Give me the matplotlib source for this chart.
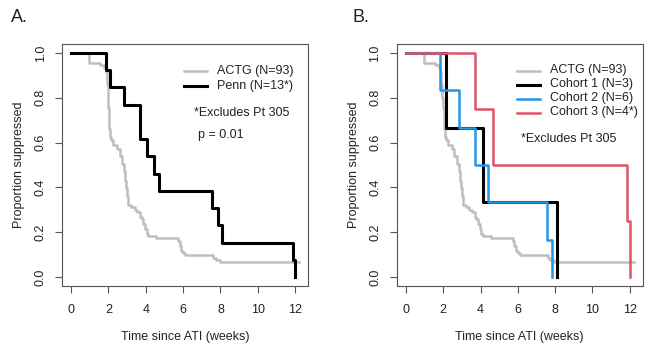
import matplotlib
matplotlib.use("Agg")
import matplotlib.pyplot as plt
from matplotlib.lines import Line2D

plt.rcParams["font.family"] = ["Liberation Sans", "DejaVu Sans"]

# ── data (Kaplan-Meier step points) ─────────────────────────────────────────
actg_t = [0, 0.96, 1.55, 1.75, 1.85, 1.90, 1.95, 2.00, 2.04, 2.10, 2.15, 2.25,
          2.45, 2.60, 2.75, 2.85, 2.90, 2.95, 3.00, 3.05, 3.20, 3.40, 3.55,
          3.68, 3.78, 3.86, 3.95, 4.04, 4.12, 4.57, 5.75, 5.82, 5.90, 6.00,
          6.10, 7.60, 7.75, 7.95, 12.2]
actg_s = [1.000, 0.957, 0.946, 0.935, 0.914, 0.860, 0.800, 0.753, 0.660, 0.624,
          0.613, 0.591, 0.570, 0.538, 0.505, 0.473, 0.430, 0.398, 0.360, 0.323,
          0.312, 0.301, 0.290, 0.269, 0.258, 0.237, 0.215, 0.194, 0.183, 0.172,
          0.161, 0.140, 0.118, 0.108, 0.097, 0.086, 0.075, 0.065, 0.065]

penn_t = [0, 1.86, 2.07, 2.84, 3.68, 4.09, 4.43, 4.71, 7.55, 7.88, 8.10, 11.86, 12.0]
penn_s = [1.0, 0.923, 0.846, 0.769, 0.615, 0.538, 0.462, 0.385, 0.308, 0.231,
          0.154, 0.077, 0.0]

coh1_t = [0, 2.14, 4.11, 8.11]
coh1_s = [1.0, 0.667, 0.333, 0.0]
coh2_t = [0, 1.82, 2.84, 3.70, 4.39, 7.57, 7.84]
coh2_s = [1.0, 0.833, 0.667, 0.5, 0.333, 0.167, 0.0]
coh3_t = [0, 3.68, 4.68, 11.86, 12.0]
coh3_s = [1.0, 0.75, 0.5, 0.25, 0.0]

xticks = [0, 2, 4, 6, 8, 10, 12]
yticks = [0.0, 0.2, 0.4, 0.6, 0.8, 1.0]

GRAY = "#BEBEBE"
BLUE = "#2297E6"
RED = "#DF536B"
TXT = "#222222"
FRAME = "#555555"
FS = 9

W, H = 650, 352
fig = plt.figure(figsize=(W / 100, H / 100), dpi=100)


def px(x, y):
    return x / W, 1 - y / H


def setup(ax):
    ax.set_xlim(-0.49, 12.69)
    ax.set_ylim(-0.04, 1.04)
    ax.set_xticks(xticks)
    ax.set_yticks(yticks)
    ax.set_xticklabels([str(t) for t in xticks])
    ax.set_yticklabels([f"{t:.1f}" for t in yticks], rotation=90, va="center")
    ax.tick_params(direction="out", length=5, width=0.8, colors=FRAME,
                   labelcolor=TXT, labelsize=FS)
    ax.tick_params(axis="x", pad=8)
    ax.tick_params(axis="y", pad=6)
    for s in ax.spines.values():
        s.set_color(FRAME)
        s.set_linewidth(0.8)
    ax.set_xlabel("Time since ATI (weeks)", fontsize=FS, color=TXT, labelpad=11)
    ax.set_ylabel("Proportion suppressed", fontsize=FS, color=TXT, labelpad=7)


def legend(x0, x1, xt, ys, colors, labels, widths):
    for y, c, lab, lw in zip(ys, colors, labels, widths):
        (a, b), (_, yy) = px(x0, y), px(x1, y)
        fig.add_artist(Line2D([a, px(x1, y)[0]], [b, b], color=c, lw=lw,
                              transform=fig.transFigure))
        fig.text(*px(xt, y), lab, fontsize=FS, color=TXT, va="center")


# ── A. ACTG vs Penn ─────────────────────────────────────────────────────────
ax1 = fig.add_axes([62 / W, 1 - 286 / H, 246 / W, 242 / H])
ax1.step(actg_t, actg_s, where="post", color=GRAY, lw=1.8)
ax1.step(penn_t, penn_s, where="post", color="black", lw=2.2)
setup(ax1)
legend(184, 207, 216.5, [71, 86], [GRAY, "black"],
       ["ACTG (N=93)", "Penn (N=13*)"], [1.8, 2.2])
fig.text(*px(194, 112.5), "*Excludes Pt 305", fontsize=FS, color=TXT, va="center")
fig.text(*px(198, 135), "p = 0.01", fontsize=FS, color=TXT, va="center")
fig.text(*px(11, 17), "A.", fontsize=13, color=TXT, va="center")

# ── B. ACTG vs cohorts ──────────────────────────────────────────────────────
ax2 = fig.add_axes([396.7 / W, 1 - 286 / H, 246 / W, 242 / H])
ax2.step(actg_t, actg_s, where="post", color=GRAY, lw=1.8)
ax2.step(coh1_t, coh1_s, where="post", color="black", lw=2.2)
ax2.step(coh2_t, coh2_s, where="post", color=BLUE, lw=1.8)
ax2.step(coh3_t, coh3_s, where="post", color=RED, lw=1.8)
setup(ax2)
legend(516.7, 540, 550.5, [70.5, 84.5, 98.5, 112.5], [GRAY, "black", BLUE, RED],
       ["ACTG (N=93)", "Cohort 1 (N=3)", "Cohort 2 (N=6)", "Cohort 3 (N=4*)"],
       [1.8, 2.2, 1.8, 1.8])
fig.text(*px(520.7, 139), "*Excludes Pt 305", fontsize=FS, color=TXT, va="center")
fig.text(*px(352, 17), "B.", fontsize=13, color=TXT, va="center")

fig.savefig("out.png", dpi=100)
